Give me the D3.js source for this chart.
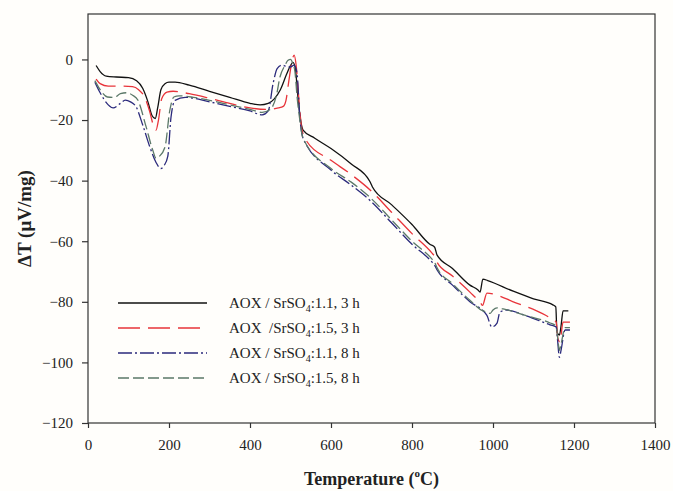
<!DOCTYPE html>
<html>
<head>
<meta charset="utf-8">
<script src="https://cdn.jsdelivr.net/npm/d3@7"></script>
<style>
  body { margin: 0; background: #fffefb; }
  svg { display: block; }
  .axis text { font-family: "Liberation Serif", "Times New Roman", serif; font-size: 15px; fill: #222; }
  .axis path, .axis line { stroke: #333; stroke-width: 1.2; }
</style>
</head>
<body>
<script>
// ---- data ----
var xTicks = [0, 200, 400, 600, 800, 1000, 1200, 1400];
var yTicks = [0, -20, -40, -60, -80, -100, -120];

var labels = ["AOX / SrSO|4|:1.1, 3 h", "AOX  /SrSO|4|:1.5, 3 h", "AOX / SrSO|4|:1.1, 8 h", "AOX / SrSO|4|:1.5, 8 h"];

// AOX / SrSO4 1.1, 3 h
var tempA = [20, 30, 45, 70, 100, 120, 135, 148, 158, 166, 172, 180, 190, 200, 215, 250, 300, 350, 400, 425, 445, 460, 475, 490, 500, 506, 512, 518, 525, 531, 560, 600, 650, 696, 702, 750, 800, 844, 856, 862, 900, 943, 963, 968, 975, 987, 1050, 1100, 1148, 1155, 1158, 1164, 1168, 1173, 1186];
var dtA = [-2, -4, -5.5, -5.8, -6, -7, -9.5, -14, -18.5, -19.5, -16, -10, -8, -7.5, -7.5, -8.5, -10.5, -12.5, -14.5, -15, -14.5, -13, -10, -5, -2, -1, -3, -12, -20, -23.3, -26, -29.4, -34.5, -40.3, -42, -48, -54.5, -61, -62, -64.6, -69, -74.5, -76.1, -76.8, -72.5, -73, -76.5, -79, -81, -81.7, -90, -91, -88, -83, -83];

// AOX / SrSO4 1.5, 3 h
var tempB = [20, 30, 50, 80, 110, 125, 140, 152, 162, 168, 174, 182, 195, 210, 250, 300, 350, 400, 440, 470, 482, 489, 496, 503, 509, 514, 520, 528, 540, 600, 650, 700, 750, 800, 850, 856, 862, 900, 943, 970, 974, 985, 1010, 1050, 1100, 1141, 1156, 1160, 1165, 1168, 1173, 1190];
var dtB = [-6.5, -8, -8.8, -8.8, -9, -10, -12.5, -17, -22, -23.3, -20, -13, -10.8, -10.5, -11.3, -12.8, -14.5, -16, -16.5, -16, -15.5, -13.4, -7, -1, 1.4, -2, -12, -23, -27, -33.3, -38, -43.5, -50.5, -57.5, -64, -65, -67, -71.5, -76.8, -80.5, -81.2, -77.1, -77.8, -80, -82.5, -85.3, -86.7, -92, -93.3, -91, -86.7, -86.7];

// AOX / SrSO4 1.1, 8 h
var tempC = [17, 30, 50, 62, 80, 92, 105, 119, 136, 153, 168, 180, 188, 197, 205, 215, 240, 300, 350, 400, 430, 445, 457, 467, 478, 489, 499, 509, 516, 523, 531, 600, 650, 700, 750, 800, 850, 856, 862, 900, 943, 985, 997, 1010, 1017, 1034, 1080, 1141, 1156, 1159, 1164, 1168, 1178, 1190];
var dtC = [-7.5, -11, -15, -16, -14.5, -13.4, -14, -15.7, -22, -29, -34, -36, -35, -32, -19, -13.5, -12.5, -14, -15.5, -17, -18.3, -17, -8, -3, -1.9, -2.2, -2.5, -1.9, -4.5, -19, -26, -36.5, -41.5, -47, -54, -61, -67, -68, -69.5, -74.5, -80, -84.5, -88.3, -87, -83.4, -82.7, -84.5, -87.6, -88.3, -92, -98.3, -96, -89.3, -89.3];

// AOX / SrSO4 1.5, 8 h
var tempD = [17, 30, 48, 65, 80, 95, 110, 123, 143, 160, 168, 176, 190, 202, 212, 225, 260, 300, 350, 400, 430, 450, 465, 474, 486, 494, 500, 506, 511, 516, 523, 531, 600, 650, 700, 750, 800, 850, 856, 862, 900, 943, 975, 985, 993, 1000, 1010, 1030, 1080, 1141, 1156, 1159, 1164, 1168, 1178, 1190];
var dtD = [-7, -10, -12.4, -12.5, -11.3, -11, -11.8, -13.4, -22, -30, -32.6, -32, -29, -16.8, -12.4, -12, -12.5, -13.5, -15, -16.5, -17.5, -16.5, -12, -5.8, -2, -0.3, 0, -1.5, -4, -12, -20, -26, -36, -40.5, -46, -53, -60, -66, -67, -68.8, -74, -79.5, -83, -83.4, -83.8, -82.7, -82, -82.5, -84.5, -87, -88, -91, -96, -94, -88.5, -88.5];

var colors = ["#111111", "#e8343a", "#2b2a7c", "#5b7868"];
var dashes = [null, "22,8", "14,3,2,3", "11,4"];

var series = [
  {temp: tempA, dt: dtA},
  {temp: tempB, dt: dtB},
  {temp: tempC, dt: dtC},
  {temp: tempD, dt: dtD}
];
series.forEach(function(s, i) {
  s.pts = s.temp.map(function(t, j) { return {t: t, v: s.dt[j]}; });
  s.label = labels[i];
});

// chart stuff
var W = 673, H = 491;
var margin = {top: 14, right: 18, bottom: 68, left: 88},
    width = W - margin.left - margin.right,
    height = H - margin.top - margin.bottom;

var x = d3.scaleLinear().domain([0, 1400]).range([0, width]);
var y = d3.scaleLinear().domain([-120, 15]).range([height, 0]);

var svg = d3.select("body").append("svg")
    .attr("width", W)
    .attr("height", H);

var g = svg.append("g")
    .attr("transform", "translate(" + margin.left + "," + margin.top + ")");

// frame
g.append("rect")
    .attr("width", width)
    .attr("height", height)
    .attr("fill", "none")
    .attr("stroke", "#333")
    .attr("stroke-width", 1.2);

// axes
g.append("g")
    .attr("class", "axis")
    .attr("transform", "translate(0," + height + ")")
    .call(d3.axisBottom(x).tickValues(xTicks).tickSize(5).tickSizeOuter(0).tickPadding(11).tickFormat(d3.format("d")));

g.append("g")
    .attr("class", "axis")
    .call(d3.axisLeft(y).tickValues(yTicks).tickSize(6).tickSizeOuter(0).tickPadding(9).tickFormat(d3.format("d")));

g.selectAll(".axis .domain").remove();

// curves
var line = d3.line()
    .x(function(d) { return x(d.t); })
    .y(function(d) { return y(d.v); })
    .curve(d3.curveMonotoneX);

g.selectAll(".curve")
  .data(series)
  .enter().append("path")
    .attr("class", "curve")
    .attr("d", function(d) { return line(d.pts); })
    .attr("fill", "none")
    .attr("stroke", function(d, i) { return colors[i]; })
    .attr("stroke-width", 1.3)
    .attr("stroke-dasharray", function(d, i) { return dashes[i]; });

// legend
var legend = svg.append("g").attr("transform", "translate(118,303)");
var item = legend.selectAll(".item")
  .data(series)
  .enter().append("g")
    .attr("transform", function(d, i) { return "translate(0," + i * 25 + ")"; });

item.append("line")
    .attr("x1", 0).attr("x2", 89)
    .attr("stroke", function(d, i) { return colors[i]; })
    .attr("stroke-width", 1.4)
    .attr("stroke-dasharray", function(d, i) { return dashes[i]; });

item.append("text")
    .attr("x", 111)
    .attr("y", 5)
    .style("font-family", "'Liberation Serif', 'Times New Roman', serif")
    .style("font-size", "15px")
    .style("fill", "#222")
    .style("white-space", "pre")
    .each(function(d) {
      var parts = d.label.split("|");
      var t = d3.select(this);
      t.append("tspan").text(parts[0]);
      t.append("tspan").attr("dy", 4).style("font-size", "10px").text(parts[1]);
      t.append("tspan").attr("dy", -4).text(parts[2]);
    });

// axis titles
svg.append("text")
    .attr("transform", "translate(31," + (margin.top + height / 2) + ") rotate(-90)")
    .attr("text-anchor", "middle")
    .style("font-family", "'Liberation Serif', 'Times New Roman', serif")
    .style("font-size", "19px")
    .style("font-weight", "bold")
    .style("fill", "#222")
    .text("\u0394T (\u03bcV/mg)");

var xt = svg.append("text")
    .attr("x", margin.left + width / 2)
    .attr("y", 485)
    .attr("text-anchor", "middle")
    .style("font-family", "'Liberation Serif', 'Times New Roman', serif")
    .style("font-size", "18px")
    .style("font-weight", "bold")
    .style("fill", "#222");
xt.append("tspan").text("Temperature (");
xt.append("tspan").attr("dy", -8).style("font-size", "11px").text("o");
xt.append("tspan").attr("dy", 8).text("C)");
</script>
</body>
</html>
